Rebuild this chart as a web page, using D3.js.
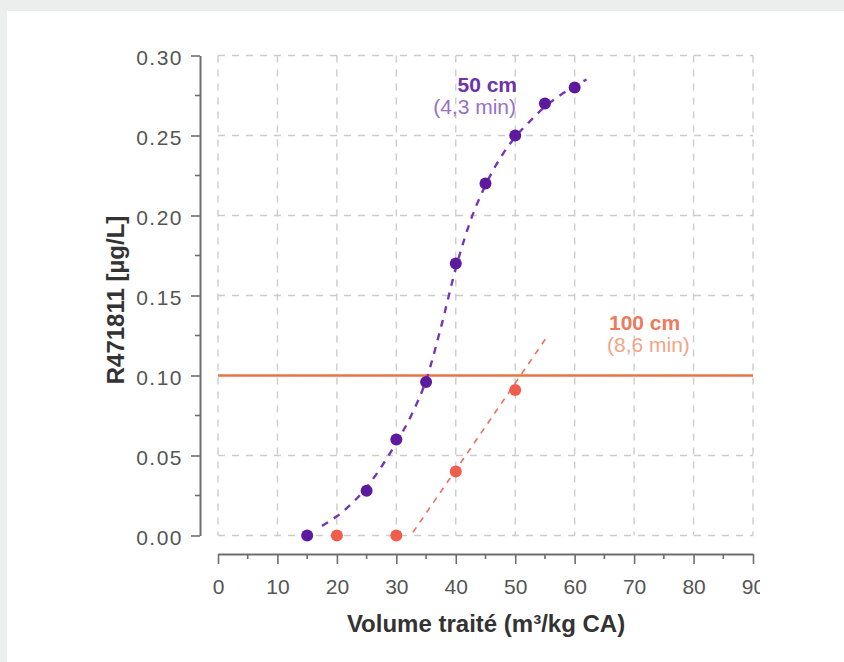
<!DOCTYPE html>
<html>
<head>
<meta charset="utf-8">
<script src="https://cdn.jsdelivr.net/npm/d3@7"></script>
<style>
  html, body { margin: 0; padding: 0; background: #eceeee; }
  svg { display: block; }
  text { font-family: "Liberation Sans", Arial, Helvetica, sans-serif; }
</style>
</head>
<body>
<svg id="chart" width="844" height="662"></svg>
<script>
// Measured concentrations for the 50 cm bed
const series50 = [
  [15, 0.000], [25, 0.028], [30, 0.060], [35, 0.096], [40, 0.170],
  [45, 0.220], [50, 0.250], [55, 0.270], [60, 0.280]
];
// Measured concentrations for the 100 cm bed
const series100 = [
  [20, 0.000], [30, 0.000], [40, 0.040], [50, 0.091]
];
// Fitted breakthrough curve, 50 cm
const fit50 = [
  [17.5, 0.006], [20, 0.012], [22.5, 0.020], [25, 0.030], [27.5, 0.043],
  [30, 0.058], [32.5, 0.075], [35, 0.097], [37.5, 0.130], [40, 0.167],
  [42.5, 0.197], [45, 0.219], [47.5, 0.236], [50, 0.249], [52.5, 0.259],
  [55, 0.268], [57.5, 0.275], [60, 0.281], [62, 0.285]
];
// Linear trend, 100 cm
const fit100 = [[32.8, 0.002], [55.5, 0.125]];
// Threshold level
const threshold = 0.10;

const xTicks = [0, 10, 20, 30, 40, 50, 60, 70, 80, 90];
const xMinor = [5, 15, 25, 35, 45, 55, 65, 75, 85];
const yTicks = [0.00, 0.05, 0.10, 0.15, 0.20, 0.25, 0.30];
const yMinor = [0.025, 0.075, 0.125, 0.175, 0.225, 0.275];

const svg = d3.select("#chart");

// white panel
svg.append("rect").attr("x", 7).attr("y", 11).attr("width", 844).attr("height", 662).attr("fill", "#ffffff");

// the drawing area ends just past the last x tick, cutting into its label
svg.append("defs").append("clipPath").attr("id", "plotclip")
  .append("rect").attr("x", 0).attr("y", 0).attr("width", 760).attr("height", 662);

const x = d3.scaleLinear().domain([0, 90]).range([218, 753]);
const y = d3.scaleLinear().domain([0, 0.30]).range([535.5, 55.5]);

const purple = "#5c1b9e";
const purpleLine = "#7436b3";
const coral = "#ef5e4c";
const orange = "#e8763f";

const root = svg.append("g").attr("clip-path", "url(#plotclip)");

// grid
const grid = root.append("g").attr("stroke", "#cccccc").attr("stroke-width", 1.4)
  .attr("stroke-dasharray", "7,7").attr("fill", "none");
grid.selectAll("line.v").data(xTicks).join("line")
  .attr("x1", d => x(d)).attr("x2", d => x(d))
  .attr("y1", y(0.30)).attr("y2", y(0));
grid.selectAll("line.h").data(yTicks).join("line")
  .attr("x1", x(0)).attr("x2", x(90))
  .attr("y1", d => y(d)).attr("y2", d => y(d));

// axes (offset from the plotting area)
const axisColor = "#6e6e6e";
const xAxisY = 554;
const yAxisX = 200;

const gx = root.append("g").attr("transform", `translate(0,${xAxisY})`)
  .call(d3.axisBottom(x).tickValues(xTicks).tickSize(10).tickSizeOuter(0).tickFormat(d3.format("d")));
gx.append("g").selectAll("line").data(xMinor).join("line")
  .attr("x1", d => x(d)).attr("x2", d => x(d)).attr("y1", 0).attr("y2", 5);

const gy = root.append("g").attr("transform", `translate(${yAxisX},0)`)
  .call(d3.axisLeft(y).tickValues(yTicks).tickSize(9).tickSizeOuter(0).tickPadding(8).tickFormat(d3.format(".2f")));
gy.append("g").selectAll("line").data(yMinor).join("line")
  .attr("x1", 0).attr("x2", -5).attr("y1", d => y(d)).attr("y2", d => y(d));

[gx, gy].forEach(g => {
  g.select(".domain").attr("stroke", axisColor).attr("stroke-width", 2);
  g.selectAll("line").attr("stroke", axisColor).attr("stroke-width", 1.6);
  g.selectAll("text").attr("fill", "#555").attr("font-size", 21)
    .attr("font-family", "'Liberation Sans', Arial, sans-serif");
});
gx.selectAll(".tick text").attr("y", 40).attr("dy", 0);
gy.selectAll(".tick text").attr("dy", "0.42em").attr("letter-spacing", 1.5);

// threshold line
root.append("line")
  .attr("x1", x(0)).attr("x2", x(90))
  .attr("y1", y(threshold)).attr("y2", y(threshold))
  .attr("stroke", orange).attr("stroke-width", 2.6);

// fitted curves
const line = d3.line().x(d => x(d[0])).y(d => y(d[1])).curve(d3.curveMonotoneX);
root.append("path").datum(fit50).attr("d", line)
  .attr("fill", "none").attr("stroke", purpleLine).attr("stroke-width", 2.4)
  .attr("stroke-dasharray", "7,7");
root.append("path").datum(fit100).attr("d", d3.line().x(d => x(d[0])).y(d => y(d[1])))
  .attr("fill", "none").attr("stroke", "#ea6f5e").attr("stroke-width", 1.6)
  .attr("stroke-dasharray", "6,6");

// data points
root.append("g").selectAll("circle").data(series100).join("circle")
  .attr("cx", d => x(d[0])).attr("cy", d => y(d[1])).attr("r", 6)
  .attr("fill", coral);
root.append("g").selectAll("circle").data(series50).join("circle")
  .attr("cx", d => x(d[0])).attr("cy", d => y(d[1])).attr("r", 6)
  .attr("fill", purple);

// series annotations
root.append("text").attr("x", 517).attr("y", 92).attr("text-anchor", "end")
  .attr("font-size", 21).attr("font-weight", "bold").attr("fill", "#6d33a8").text("50 cm");
root.append("text").attr("x", 516).attr("y", 114).attr("text-anchor", "end")
  .attr("font-size", 21).attr("fill", "#9a6fc8").text("(4,3 min)");
root.append("text").attr("x", 609).attr("y", 330).attr("text-anchor", "start")
  .attr("font-size", 21).attr("font-weight", "bold").attr("fill", "#ec7a5c").text("100 cm");
root.append("text").attr("x", 607).attr("y", 352).attr("text-anchor", "start")
  .attr("font-size", 21).attr("fill", "#f3a488").text("(8,6 min)");

// axis titles
root.append("text").attr("x", 486).attr("y", 632).attr("text-anchor", "middle")
  .attr("font-size", 24).attr("font-weight", "bold").attr("fill", "#333")
  .text("Volume traité (m³/kg CA)");
root.append("text").attr("transform", "translate(124,300) rotate(-90)")
  .attr("text-anchor", "middle").attr("font-size", 24).attr("font-weight", "bold")
  .attr("fill", "#333").text("R471811 [µg/L]");
</script>
</body>
</html>
